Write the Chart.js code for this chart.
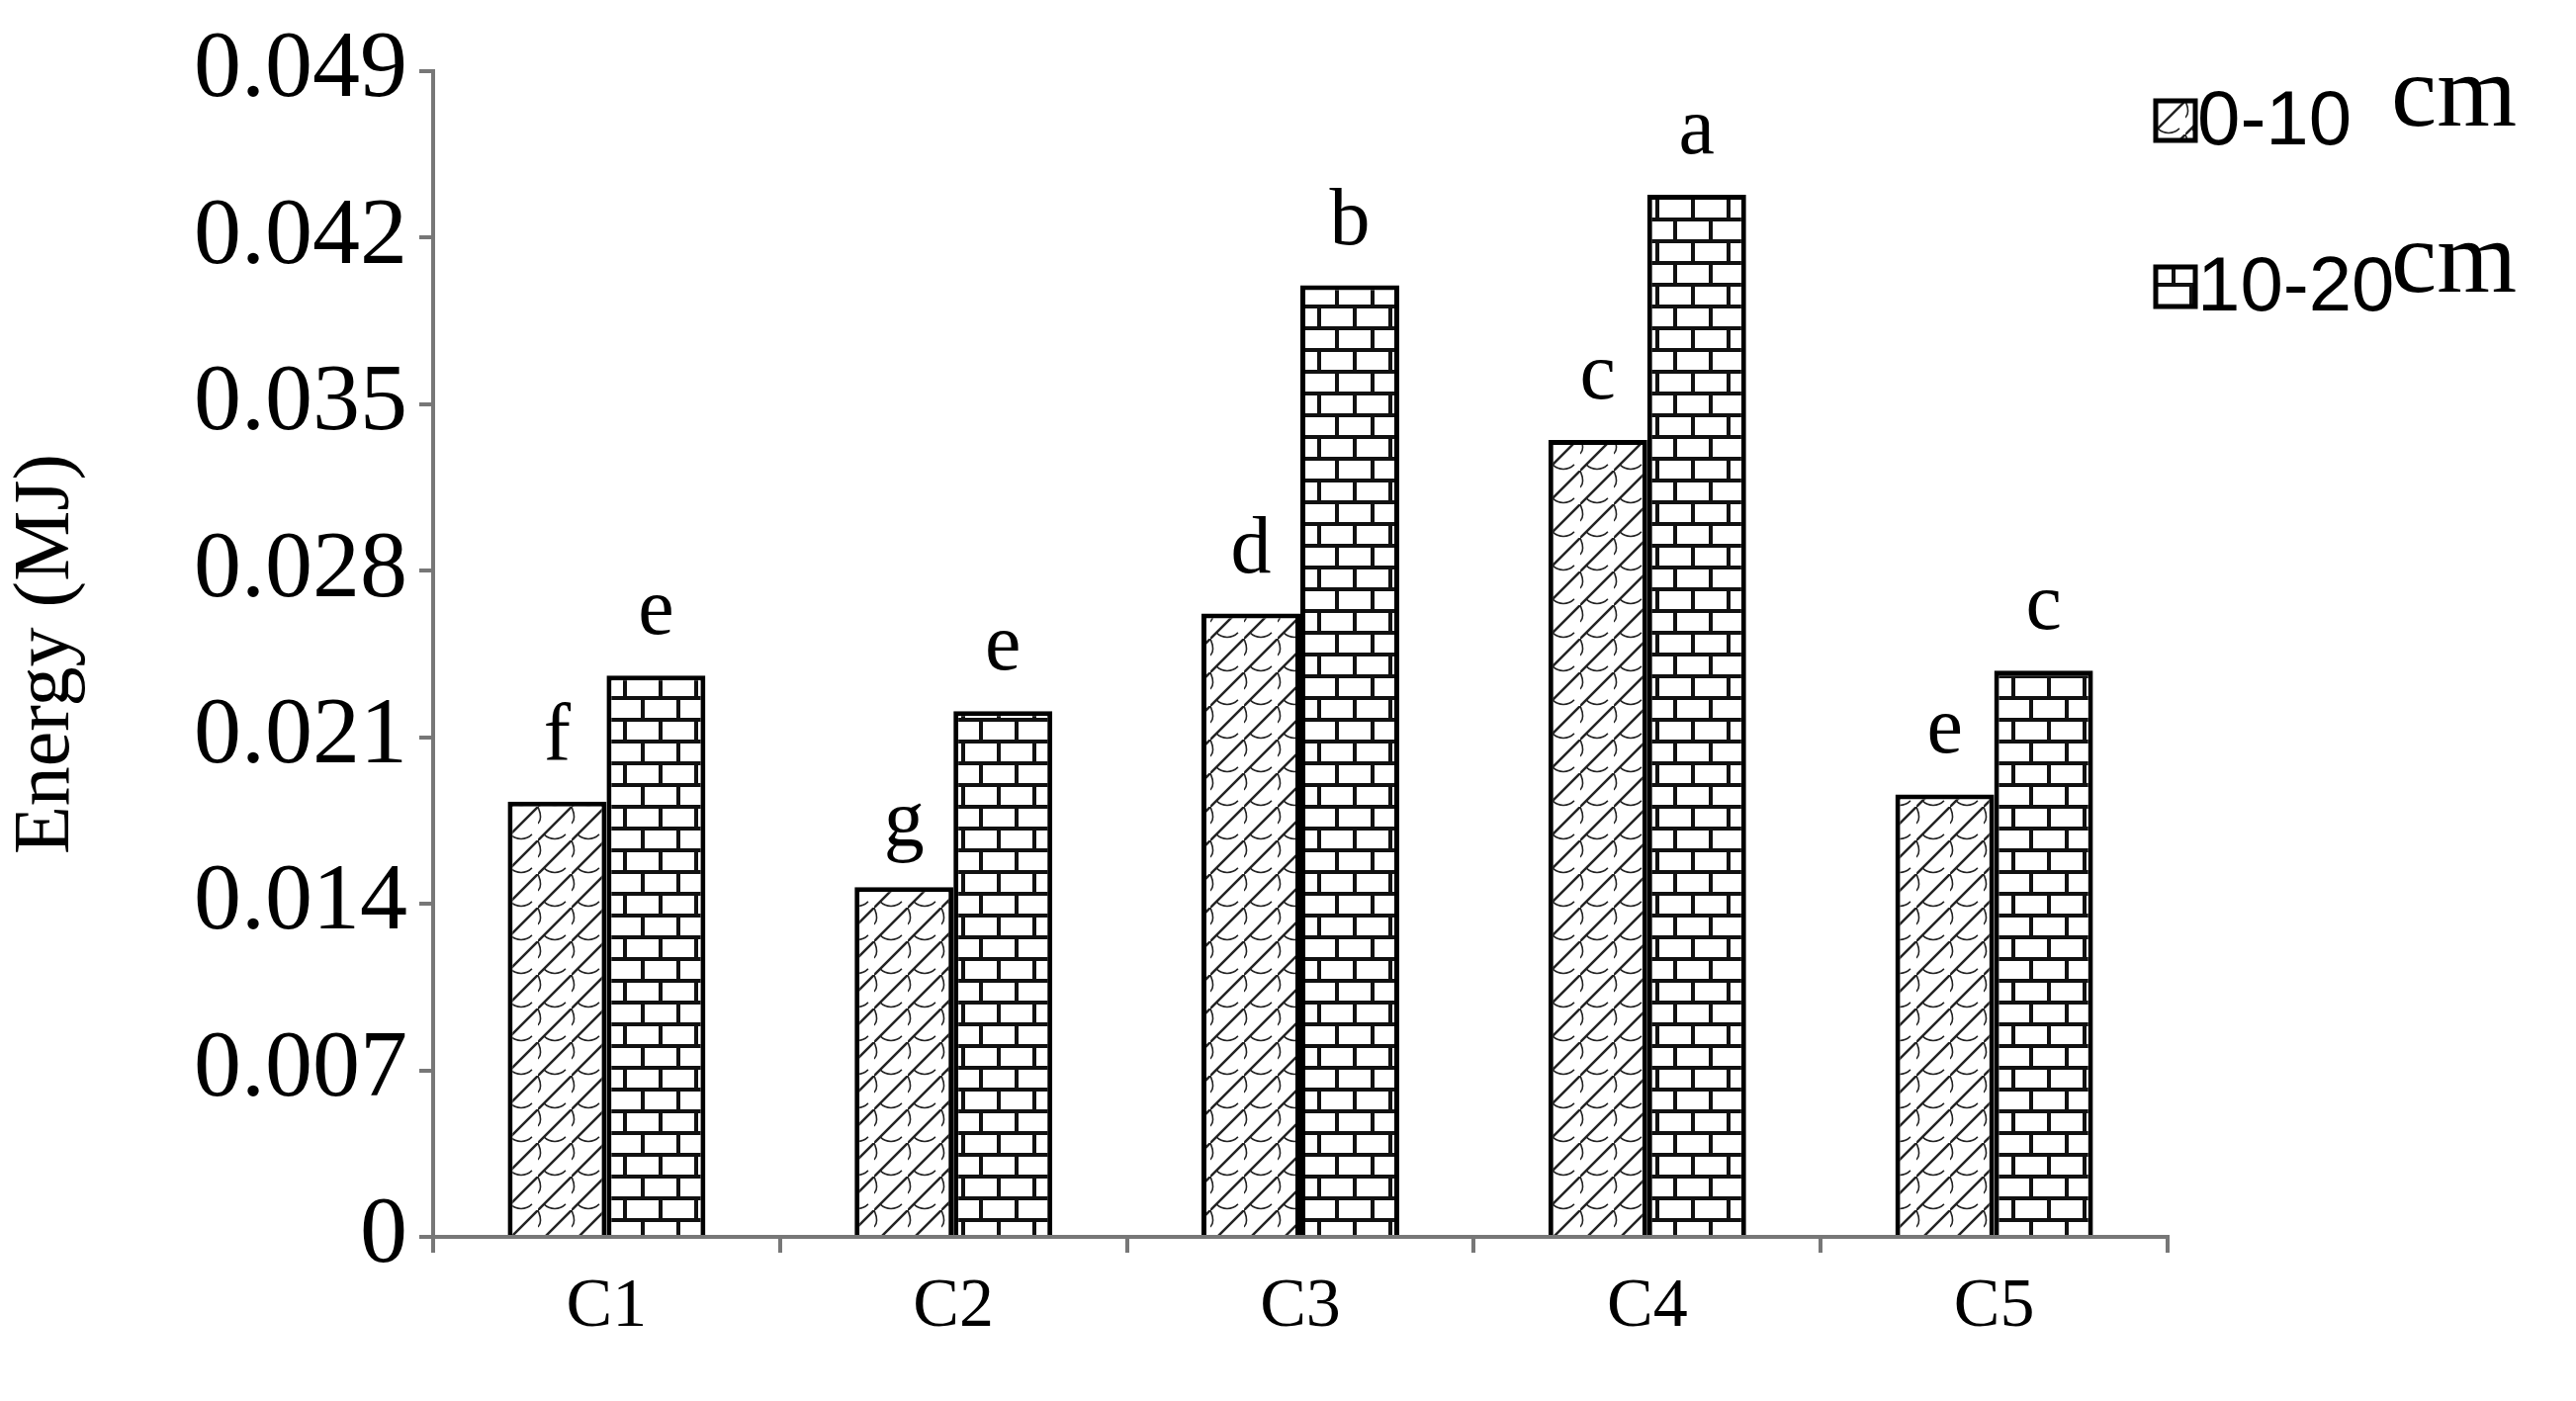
<!DOCTYPE html>
<html><head><meta charset="utf-8">
<script src="https://cdn.jsdelivr.net/npm/chart.js@4/dist/chart.umd.min.js"></script>
<style>html,body{margin:0;padding:0;background:#fff}</style>
</head><body>
<canvas id="c" width="2605" height="1417" style="width:2605px;height:1417px"></canvas>
<script>
const categories = ["C1","C2","C3","C4","C5"];
const seriesNames = ["0-10","10-20"];
const shallow = [0.0183,0.0147,0.0262,0.0335,0.0186];
const deep = [0.0236,0.0221,0.0400,0.0438,0.0238];
const shallowLetters = ["f","g","d","c","e"];
const deepLetters = ["e","e","b","a","c"];
const yTicks = [0,0.007,0.014,0.021,0.028,0.035,0.042,0.049];

function diagPattern(){
  const s=34, c=document.createElement('canvas'); c.width=s; c.height=s;
  const g=c.getContext('2d'); g.fillStyle='#fff'; g.fillRect(0,0,s,s);
  g.strokeStyle='#222'; g.lineWidth=2.5;
  g.beginPath(); g.moveTo(-2,s+2); g.lineTo(s+2,-2); g.stroke();
  g.lineWidth=1.6; g.beginPath(); g.arc(s/2,s/2,s/2.2,Math.PI*0.25,Math.PI*0.75); g.stroke();
  g.beginPath(); g.moveTo(0,0); g.quadraticCurveTo(s*0.15,s*0.35,0,s*0.5); g.stroke();
  return document.getElementById('c').getContext('2d').createPattern(c,'repeat');
}
function brickPattern(){
  const w=36,h=44,c=document.createElement('canvas'); c.width=w; c.height=h;
  const g=c.getContext('2d'); g.fillStyle='#fff'; g.fillRect(0,0,w,h);
  g.fillStyle='#111';
  g.fillRect(0,0,w,4); g.fillRect(0,22,w,4);
  g.fillRect(0,0,4,22); g.fillRect(18,22,4,22);
  return document.getElementById('c').getContext('2d').createPattern(c,'repeat');
}

const letterPlugin={id:'letters',afterDatasetsDraw(ch){
  const g=ch.ctx; g.save(); g.fillStyle='#000'; g.font='82px "Liberation Serif"'; g.textAlign='center'; g.textBaseline='alphabetic';
  [shallowLetters,deepLetters].forEach((L,di)=>{
    ch.getDatasetMeta(di).data.forEach((b,i)=>{ g.fillText(L[i],b.x,b.y-42); });
  });
  const items=[[diagPattern(),seriesNames[0],122],[brickPattern(),seriesNames[1],290]];
  items.forEach(([p,t,cy])=>{
    g.fillStyle=p; g.fillRect(2180,cy-20,40,40); g.strokeStyle='#000'; g.lineWidth=5; g.strokeRect(2180,cy-20,40,40);
    g.fillStyle='#000'; g.textAlign='left'; g.textBaseline='middle'; g.font='78px "Liberation Sans"';
    g.fillText(t,2222,cy+2);
    g.font='104px "Liberation Serif"'; g.fillText('cm',2418,cy-22);
  });
  g.restore();
}};

new Chart(document.getElementById('c'),{
  type:'bar',
  data:{labels:categories,datasets:[
    {label:seriesNames[0],data:shallow,backgroundColor:diagPattern(),borderColor:'#000',borderWidth:5},
    {label:seriesNames[1],data:deep,backgroundColor:brickPattern(),borderColor:'#000',borderWidth:5}
  ]},
  options:{responsive:false,devicePixelRatio:1,animation:false,
    layout:{padding:{top:72,right:413,left:0,bottom:0}},
    plugins:{legend:{display:false},tooltip:{enabled:false}},
    datasets:{bar:{barPercentage:1,categoryPercentage:0.57}},
    scales:{
      x:{grid:{display:true,drawOnChartArea:false,offset:true,tickLength:16,color:'#777',lineWidth:4},
         border:{color:'#777',width:4},
         ticks:{color:'#000',font:{family:'Liberation Serif',size:70},padding:14},
         afterFit(a){a.height=166;}},
      y:{min:0,max:0.049,afterBuildTicks(a){a.ticks=yTicks.map(v=>({value:v}));},
         grid:{display:true,drawOnChartArea:false,tickLength:14,color:'#777',lineWidth:4},
         border:{color:'#777',width:4},
         ticks:{color:'#000',font:{family:'Liberation Serif',size:96},padding:12,callback:v=>String(v)},
         title:{display:true,text:'Energy (MJ)',color:'#000',font:{family:'Liberation Serif',size:80},padding:0},
         afterFit(a){a.width=438;}}
    }},
  plugins:[letterPlugin]
});
</script>
</body></html>
